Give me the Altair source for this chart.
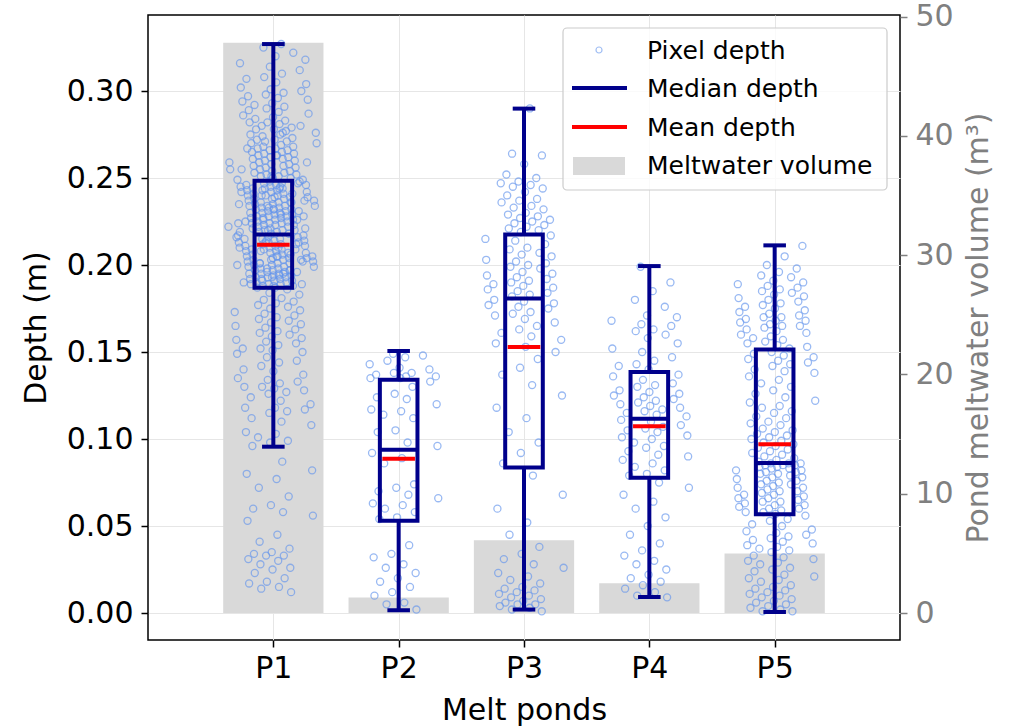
import altair as alt
import pandas as pd

# ---------------- data ----------------
ponds = ["P1", "P2", "P3", "P4", "P5"]
pond_pos = [1, 2, 3, 4, 5]
volume_m3 = [47.8, 1.3, 6.1, 2.5, 5.0]

whisker_low = [0.0956, 0.0016, 0.0020, 0.0092, 0.0006]
q1 = [0.1870, 0.0531, 0.0837, 0.0778, 0.0567]
median = [0.2175, 0.0939, 0.1807, 0.1117, 0.0862]
mean = [0.2117, 0.0887, 0.1529, 0.1073, 0.0970]
q3 = [0.2485, 0.1341, 0.2176, 0.1385, 0.1514]
whisker_high = [0.3270, 0.1506, 0.2899, 0.1994, 0.2113]

# pixel depths (mm)
depth_mm_P1 = [
    12, 14, 15, 17, 18, 20, 23, 25, 26, 28, 30, 31, 33, 33, 34, 35, 37, 41, 45, 53,
    56, 58, 60, 62, 67, 72, 77, 80, 82, 87,
    96, 98, 99, 101, 103, 104, 108, 110, 112, 115, 116, 117, 118, 118, 120, 122, 124, 126, 127, 128,
    129, 130, 130, 132, 133, 134, 135, 137, 139, 140, 142, 144, 145, 147, 149,
    150, 151, 152, 152, 154, 155, 156, 157, 158, 159, 160, 161, 162, 163, 164, 165, 166, 167, 168, 169,
    170, 171, 172, 173, 174, 175, 176, 177, 178, 179, 180, 181, 183, 184, 186,
    187, 187, 188, 188, 189, 189, 189, 190, 190, 191, 191, 191, 192, 192, 193, 193, 193, 194, 194, 195,
    195, 195, 196, 196, 197, 197, 197, 198, 198, 199, 199, 199, 200, 200, 201, 201, 201, 202, 202, 203,
    203, 203, 204, 204, 205, 205, 205, 206, 206, 207, 207, 207, 208, 208, 209, 209, 209, 210, 210, 211,
    211, 211, 212, 212, 213, 213, 213, 214, 214, 215, 215, 215, 216, 216, 217, 217, 188, 190, 192, 194,
    196, 198, 200, 202, 204, 206, 208, 210, 212, 214, 216, 189, 193, 197, 201, 205, 209, 213, 195, 203,
    218, 218, 219, 219, 220, 220, 220, 221, 221, 222, 222, 222, 223, 223, 224, 224, 224, 225, 225, 226,
    226, 226, 227, 227, 228, 228, 228, 229, 229, 230, 230, 230, 231, 231, 232, 232, 232, 233, 233, 234,
    234, 234, 235, 235, 236, 236, 236, 237, 237, 238, 238, 238, 239, 239, 240, 240, 240, 241, 241, 242,
    242, 242, 243, 243, 244, 244, 244, 245, 245, 246, 246, 246, 247, 247, 248, 248, 219, 221, 223, 225,
    227, 229, 231, 233, 235, 237, 239, 241, 243, 245, 247, 220, 224, 228, 232, 236, 240, 244, 226, 234,
    249, 249, 250, 250, 251, 251, 252, 252, 253, 253, 254, 254, 255, 255, 256, 256, 257, 257, 258, 258,
    259, 259, 260, 260, 261, 261, 262, 262, 263, 263, 264, 264, 265, 265, 266, 266, 267, 267, 268, 268,
    269, 270, 270, 271, 272, 272, 273, 274, 275, 275, 276, 277, 278, 278, 279, 280, 281, 282, 282, 283,
    284, 285, 286, 287, 288, 289, 290, 291, 292, 293, 294, 295, 296, 297, 298, 299, 300, 251, 255, 259,
    263, 267, 271, 276, 280,
    301, 302, 304, 305, 307, 308, 310, 312, 314, 316, 318, 320, 322, 325, 327,
]
depth_mm_P2 = [
    2, 5, 6, 10, 12, 15, 18, 20, 23, 26, 28, 32, 34, 39,
    54, 55, 58, 60, 62, 63, 66, 68, 70, 72, 74, 86, 89, 92,
    96, 98, 104, 105, 112, 114, 116, 117, 120, 123, 124, 126, 130, 133,
    135, 135, 136, 136, 137, 138, 138, 140, 141, 143, 145, 147, 148, 149,
]
depth_mm_P3 = [
    1, 2, 3, 4, 5, 5, 6, 7, 8, 9, 10, 11, 12, 13, 14, 15, 17, 19, 21, 23,
    26, 28, 31, 34, 38, 45, 52, 60, 68, 79,
    86, 92, 98, 104, 112, 118, 125, 131, 137, 141, 146, 150, 153, 155, 157, 159, 161, 163, 165, 167,
    169, 171, 172, 173, 175, 176, 177, 178, 179, 180,
    182, 183, 184, 185, 186, 187, 188, 189, 190, 191, 192, 193, 194, 195, 196, 198, 199, 200, 201, 202,
    203, 205, 206, 207, 209, 210, 212, 214, 215, 217,
    219, 220, 221, 222, 223, 224, 225, 226, 227, 228, 229, 230, 232, 233, 234, 236, 237, 238, 240, 242,
    244, 245, 246, 247, 248, 250, 252, 258, 263, 264, 290,
]
depth_mm_P4 = [
    9, 10, 12, 14, 16, 18, 20, 22, 25, 28, 30, 33, 36, 40, 45, 50, 55, 60, 64, 68, 72, 75,
    79, 80, 82, 84, 86, 88, 90, 91, 93, 95, 96, 98, 100, 101, 102, 104, 105, 106, 107, 108, 110, 111,
    113, 114, 115, 116, 117, 118, 119, 120, 121, 122, 123, 124, 125, 126, 127, 128, 130, 131, 132, 134, 136, 137,
    140, 142, 143, 145, 147, 150, 152, 155, 158, 160, 162, 163, 165, 166, 168, 170, 171, 176, 180, 185, 190, 199,
]
depth_mm_P5 = [
    1, 1, 2, 3, 4, 5, 6, 7, 8, 9, 10, 11, 12, 13, 14, 15, 16, 18, 19, 20,
    21, 22, 24, 25, 26, 28, 29, 30, 31, 32, 33, 35, 36, 37, 38, 39, 40, 41, 42, 43,
    44, 45, 46, 47, 48, 50, 51, 53, 54, 56,
    57, 58, 58, 59, 60, 60, 61, 62, 62, 63, 64, 64, 65, 66, 66, 67, 68, 68, 69, 70,
    70, 71, 72, 72, 73, 74, 74, 75, 76, 76, 77, 78, 78, 79, 80, 80, 81, 81, 82, 82,
    83, 83, 84, 84, 85, 85, 85, 86, 86, 86,
    87, 88, 89, 90, 91, 92, 93, 94, 95, 96, 97, 98, 99, 100, 101, 102, 103, 104, 105, 106,
    108, 109, 110, 112, 113, 115, 116, 118, 119, 121, 122, 124, 126, 128, 130, 132, 134, 136, 138, 139,
    140, 142, 143, 144, 145, 146, 147, 148, 149, 150,
    152, 153, 154, 155, 156, 157, 158, 159, 160, 161, 162, 163, 164, 165, 165, 166, 167, 168, 168, 169,
    170, 170, 171, 172, 173, 174, 175, 176, 177, 178, 179, 180, 181, 182, 183, 184, 185, 186, 187, 188,
    189, 190, 191, 193, 194, 196, 198, 200, 205, 211,
]

# ---------------- tables ----------------
stats = pd.DataFrame({
    "pond": ponds, "pos": pond_pos, "volume": volume_m3,
    "wlo": whisker_low, "q1": q1, "median": median, "mean": mean,
    "q3": q3, "whi": whisker_high,
})
rows = []
for p, vals in zip(pond_pos, [depth_mm_P1, depth_mm_P2, depth_mm_P3, depth_mm_P4, depth_mm_P5]):
    for i, v in enumerate(vals):
        rows.append({"pos": p, "i": i + 1, "depth": v / 1000.0})
points_df = pd.DataFrame(rows)

# ---------------- styling ----------------
NAVY = "#00008b"
FONT = "DejaVu Sans"
x_scale = alt.Scale(domain=[0, 6], nice=False, zero=False)
x_axis = alt.Axis(values=[1, 2, 3, 4, 5], labelExpr="'P' + datum.value", title="Melt ponds",
                  grid=True, tickSize=7, labelPadding=6, titlePadding=12)
yl_scale = alt.Scale(domain=[-0.0155, 0.3437], nice=False, zero=False)
yl_axis = alt.Axis(values=[0, 0.05, 0.10, 0.15, 0.20, 0.25, 0.30], format=".2f", title="Depth (m)",
                   orient="left", grid=True, tickSize=7, labelPadding=8, titlePadding=15)
yr_scale = alt.Scale(domain=[-2.26, 50.13], nice=False, zero=False)
yr_axis = alt.Axis(values=[0, 10, 20, 30, 40, 50], title="Pond meltwater volume (m³)", orient="right",
                   grid=False, tickSize=7, labelPadding=8, titlePadding=10,
                   titleAngle=270, titleBaseline="top",
                   labelColor="#808080", titleColor="#808080", tickColor="#808080")


def X(f):
    return alt.X(f, type="quantitative", scale=x_scale, axis=x_axis)


def YL(f):
    return alt.Y(f, type="quantitative", scale=yl_scale, axis=yl_axis)


base = alt.Chart(stats)

bars = base.transform_calculate(
    x0="datum.pos - 0.4", x1="datum.pos + 0.4", zero="0"
).mark_bar(color="#d9d9d9").encode(
    x=X("x0"), x2="x1",
    y=alt.Y("volume", type="quantitative", scale=yr_scale, axis=yr_axis),
    y2="zero:Q",
)

points = alt.Chart(points_df).transform_calculate(
    xj="datum.pos + 0.38 * (((datum.i * 0.6180339887) % 1) + ((datum.i * 0.7548776662) % 1) - 1)"
).mark_point(filled=False, color="#6495ed", opacity=0.65, size=50, strokeWidth=1.3).encode(
    x=X("xj"), y=YL("depth"),
)

boxbase = base.transform_calculate(
    b0="datum.pos - 0.15", b1="datum.pos + 0.15",
    c0="datum.pos - 0.09", c1="datum.pos + 0.09",
    m0="datum.pos - 0.13", m1="datum.pos + 0.13",
)
box = boxbase.mark_rect(fill="#ffffff", fillOpacity=0, stroke=NAVY, strokeWidth=4).encode(
    x=X("b0"), x2="b1", y=YL("q1"), y2="q3")
wh_up = boxbase.mark_rule(color=NAVY, strokeWidth=4).encode(x=X("pos"), y=YL("q3"), y2="whi")
wh_lo = boxbase.mark_rule(color=NAVY, strokeWidth=4).encode(x=X("pos"), y=YL("wlo"), y2="q1")
cap_up = boxbase.mark_rule(color=NAVY, strokeWidth=4).encode(x=X("c0"), x2="c1", y=YL("whi"))
cap_lo = boxbase.mark_rule(color=NAVY, strokeWidth=4).encode(x=X("c0"), x2="c1", y=YL("wlo"))
med = boxbase.mark_rule(color=NAVY, strokeWidth=4).encode(x=X("b0"), x2="b1", y=YL("median"))
mn = boxbase.mark_rule(color="#ff0000", strokeWidth=4).encode(x=X("m0"), x2="m1", y=YL("mean"))

left_group = alt.layer(points, box, wh_up, wh_lo, cap_up, cap_lo, med, mn)

# ---------------- legend (drawn in plot pixels) ----------------
one = alt.Chart(pd.DataFrame({"k": [0]}))
leg_frame = one.mark_rect(fill="white", fillOpacity=0.8, stroke="#cccccc", strokeWidth=1.2,
                          cornerRadius=4).encode(
    x=alt.value(415), x2=alt.value(739), y=alt.value(13), y2=alt.value(175))
leg_pt = one.mark_point(filled=False, color="#6495ed", opacity=0.6, size=36, strokeWidth=1.2).encode(
    x=alt.value(451), y=alt.value(35))
leg_med = one.mark_rule(color=NAVY, strokeWidth=4).encode(
    x=alt.value(424), x2=alt.value(479), y=alt.value(73))
leg_mean = one.mark_rule(color="#ff0000", strokeWidth=4).encode(
    x=alt.value(424), x2=alt.value(479), y=alt.value(112))
leg_patch = one.mark_rect(color="#d9d9d9").encode(
    x=alt.value(425), x2=alt.value(477), y=alt.value(142), y2=alt.value(160))
leg_texts = []
for label, yb in [("Pixel depth", 44), ("Median depth", 82), ("Mean depth", 121), ("Meltwater volume", 159)]:
    leg_texts.append(one.mark_text(text=label, align="left", baseline="alphabetic", font=FONT,
                                   fontSize=25, color="black").encode(x=alt.value(499), y=alt.value(yb)))

chart = alt.layer(
    bars, left_group, leg_frame, leg_pt, leg_med, leg_mean, leg_patch, *leg_texts
).resolve_scale(y="independent").properties(
    width=752, height=625,
    padding={"left": 148, "top": 15, "right": 122, "bottom": 86},
    autosize=alt.AutoSizeParams(type="none"),
    background="white",
).configure_view(stroke="black", strokeWidth=1.5).configure_axis(
    labelFont=FONT, titleFont=FONT, labelFontSize=30, titleFontSize=30,
    labelColor="black", titleColor="black", titleFontWeight="normal",
    domain=False, tickColor="black", tickWidth=1.5, gridColor="#e6e6e6", gridWidth=1,
)

chart.save("out.html", embed_options={"renderer": "svg", "actions": False})
